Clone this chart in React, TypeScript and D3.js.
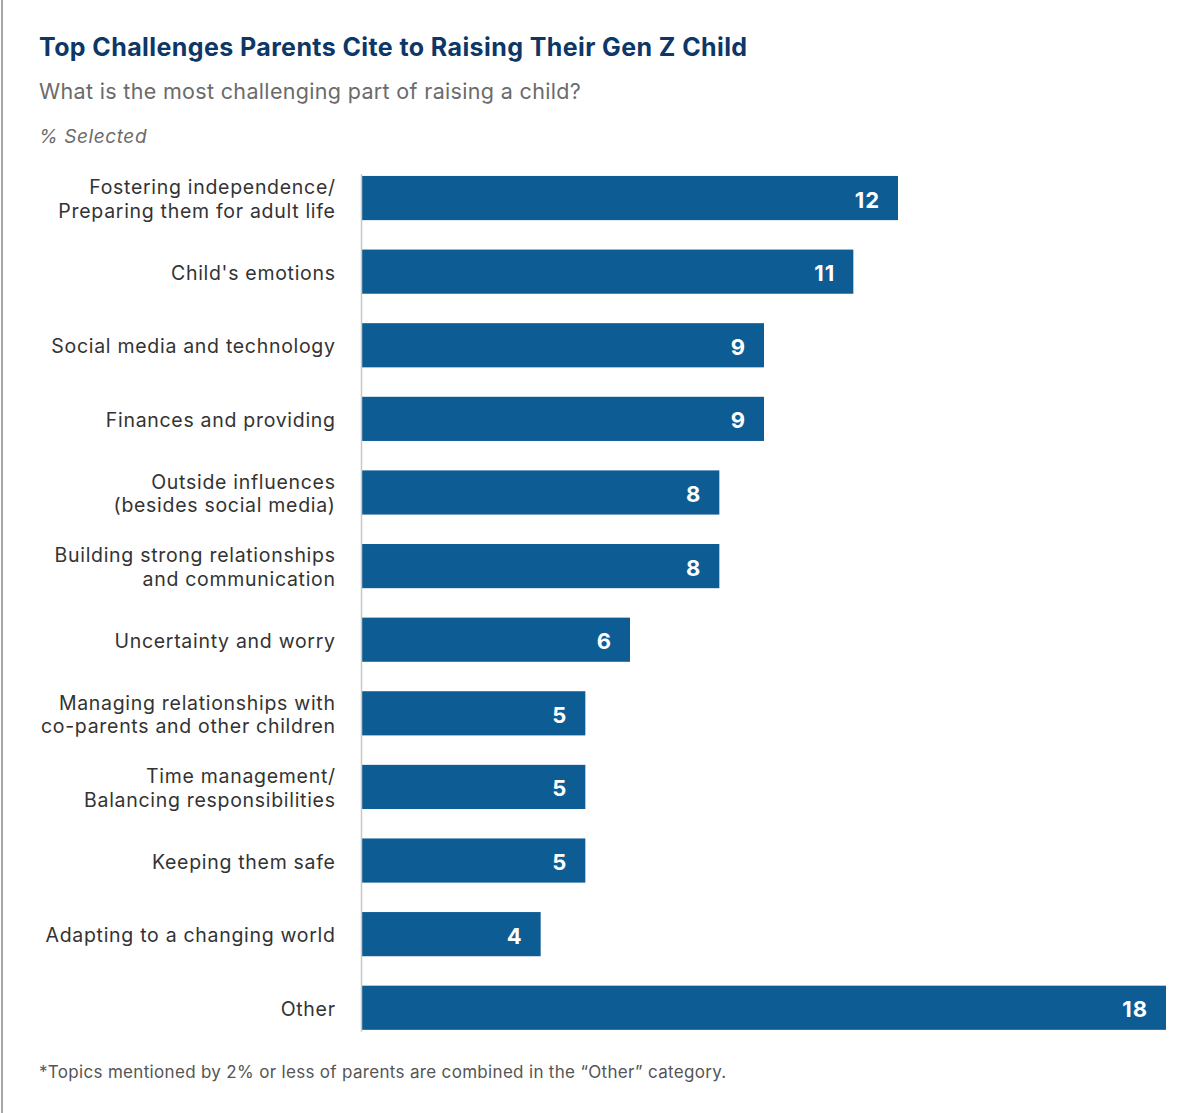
import React from "react";
import * as d3 from "d3";

const categories: string[][] = [
  ["Fostering independence/", "Preparing them for adult life"],
  ["Child's emotions"],
  ["Social media and technology"],
  ["Finances and providing"],
  ["Outside influences", "(besides social media)"],
  ["Building strong relationships", "and communication"],
  ["Uncertainty and worry"],
  ["Managing relationships with", "co-parents and other children"],
  ["Time management/", "Balancing responsibilities"],
  ["Keeping them safe"],
  ["Adapting to a changing world"],
  ["Other"],
];
const values: number[] = [12, 11, 9, 9, 8, 8, 6, 5, 5, 5, 4, 18];

const title = "Top Challenges Parents Cite to Raising Their Gen Z Child";
const subtitle = "What is the most challenging part of raising a child?";
const unitLabel = "% Selected";
const footnote = "*Topics mentioned by 2% or less of parents are combined in the \u201cOther\u201d category.";

const W = 1201;
const H = 1113;
const FONT = "Inter, 'Noto Sans', sans-serif";
const BAR = "#0e5c94";

export default function App() {
  const idx = values.map((_, i) => String(i));
  const y = d3.scaleBand<string>().domain(idx).range([168.6, 1037.2]).paddingInner(0.4).paddingOuter(0.1);
  const x = d3.scaleLinear().domain([0, 18]).range([362, 1166]);

  return (
    <svg width={W} height={H} style={{ position: "absolute", left: 0, top: 0, background: "#fff" }} fontFamily={FONT}>
      <rect x={0} y={0} width={W} height={H} fill="#fff" />
      <line x1={2} x2={2} y1={0} y2={H} stroke="#8a8a8a" strokeWidth={1.5} />
      <text x={39} y={56} fontSize={25} fontWeight={700} fill="#0c3766" letterSpacing={0.4}>{title}</text>
      <text x={39} y={99} fontSize={21.5} fill="#6b6b6b" letterSpacing={0.33}>{subtitle}</text>
      <text x={39} y={143} fontSize={19} fontStyle="italic" fill="#6b6b6b" letterSpacing={0.6}>{unitLabel}</text>
      {values.map((v, i) => {
        const by = y(String(i))!;
        const bh = y.bandwidth();
        const cy = by + bh / 2;
        const lines = categories[i];
        return (
          <g key={i}>
            <rect x={x(0)} y={by} width={x(v) - x(0)} height={bh} fill={BAR} />
            <text
              x={x(v) - 19 + 1}
              y={cy + 9.5}
              fontSize={22}
              fontWeight={700}
              fill="#fff"
              textAnchor="end"
              letterSpacing={1}
            >
              {v}
            </text>
            {lines.map((ln, j) => (
              <text
                key={j}
                x={335 + 0.7}
                y={cy + 8 + (j - (lines.length - 1) / 2) * 23.5}
                fontSize={19.5}
                fill="#333"
                textAnchor="end"
                letterSpacing={0.7}
              >
                {ln}
              </text>
            ))}
          </g>
        );
      })}
      <line x1={361.5} x2={361.5} y1={y("0")! - 2} y2={y(String(values.length - 1))! + y.bandwidth() + 2} stroke="#c8c8c8" strokeWidth={1.5} />
      <text x={39} y={1078} fontSize={17} fill="#555" letterSpacing={0.32}>{footnote}</text>
    </svg>
  );
}
